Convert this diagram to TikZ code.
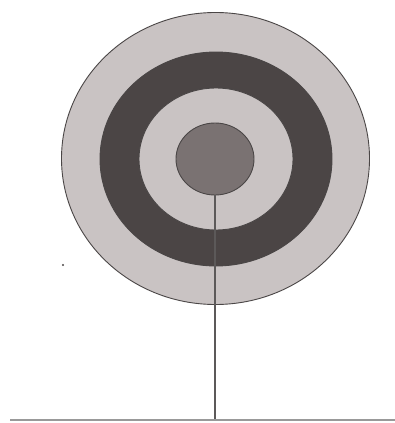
\documentclass[tikz,border=0pt]{standalone}
\usetikzlibrary{shapes.geometric}
\definecolor{ringlight}{HTML}{C9C3C3}
\definecolor{ringdark}{HTML}{4B4545}
\definecolor{bull}{HTML}{7A7272}
\definecolor{edge}{HTML}{4A4646}
\begin{document}
\begin{tikzpicture}[x=1pt,y=-1pt,
  ring/.style={ellipse,draw=edge,line width=0.9pt,inner sep=0pt,outer sep=0pt},
  stem/.style={draw=edge!90!white,line width=1.2pt},
  baseln/.style={draw=gray!80,line width=1.8pt}]
\useasboundingbox[fill=white] (0,0) rectangle (395,423);
\node[ring,fill=ringlight,minimum width=308,minimum height=292] (outer) at (215.5,158.5) {};
\node[ring,fill=ringdark,minimum width=232,minimum height=214] (dark) at (216,159) {};
\node[ring,fill=ringlight,minimum width=154,minimum height=142] (inner) at (216,159) {};
\node[ring,fill=bull,minimum width=78,minimum height=72] (bullseye) at (215,159) {};
\coordinate (bl) at (10,420);
\coordinate (br) at (395,420);
\coordinate (foot) at (bullseye.south |- bl);
\draw[stem] (bullseye.south) -- (foot);
\draw[baseln] (bl) -- (br);
\fill[edge] (63,265) circle (1.2);
\end{tikzpicture}
\end{document}
